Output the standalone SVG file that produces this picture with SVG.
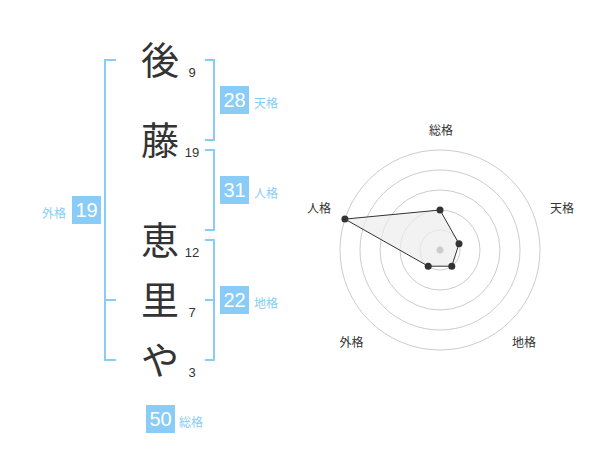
<svg xmlns="http://www.w3.org/2000/svg" width="600" height="470" viewBox="0 0 600 470">
<style>
text{font-family:"Liberation Sans","Noto Sans CJK JP",sans-serif}
.ch{font-size:38px;fill:#333;text-anchor:middle}
.sc{font-size:13px;fill:#333;text-anchor:middle}
.br{fill:none;stroke:#88ccf7;stroke-width:2}
.bx{fill:#88ccf7}
.bn{font-size:20px;fill:#fff;text-anchor:middle}
.bl{font-size:12px;fill:#88ccf7}
.ring{fill:none;stroke:#cccccc;stroke-width:1}
.rl{font-size:12px;fill:#333;text-anchor:middle}
.pt{fill:#333}
</style>
<rect width="600" height="470" fill="#fff"/>
<g id="connectors">
<path class="br" d="M116,60H105V360H116M105,300H116"/>
<path class="br" d="M205,60H214V140H205"/>
<path class="br" d="M205,150H214V230H205"/>
<path class="br" d="M205,240H214V360H205M205,300H214"/>
</g>
<g id="char-1"><text class="ch" x="160" y="74">後</text><text class="sc" x="192" y="77">9</text></g>
<g id="char-2"><text class="ch" x="160" y="154">藤</text><text class="sc" x="192" y="157">19</text></g>
<g id="char-3"><text class="ch" x="160" y="254">恵</text><text class="sc" x="192" y="257">12</text></g>
<g id="char-4"><text class="ch" x="160" y="314">里</text><text class="sc" x="192" y="317">7</text></g>
<g id="char-5"><text class="ch" x="160" y="374">や</text><text class="sc" x="192" y="377">3</text></g>
<g id="tenkaku"><rect class="bx" x="220" y="86" width="29" height="28"/><text class="bn" x="234.5" y="107">28</text><text class="bl" x="254" y="108">天格</text></g>
<g id="jinkaku"><rect class="bx" x="220" y="176" width="29" height="28"/><text class="bn" x="234.5" y="197">31</text><text class="bl" x="254" y="198">人格</text></g>
<g id="chikaku"><rect class="bx" x="220" y="286" width="29" height="28"/><text class="bn" x="234.5" y="307">22</text><text class="bl" x="254" y="308">地格</text></g>
<g id="gaikaku"><rect class="bx" x="72" y="196" width="29" height="28"/><text class="bn" x="86.5" y="217">19</text><text class="bl" x="66" y="218" text-anchor="end">外格</text></g>
<g id="soukaku"><rect class="bx" x="146" y="405" width="29" height="28"/><text class="bn" x="160.5" y="426">50</text><text class="bl" x="179" y="427">総格</text></g>
<g id="radar">
<circle class="ring" cx="440" cy="250" r="20"/>
<circle class="ring" cx="440" cy="250" r="40"/>
<circle class="ring" cx="440" cy="250" r="60"/>
<circle class="ring" cx="440" cy="250" r="80"/>
<circle class="ring" cx="440" cy="250" r="100"/>
<polygon points="440,210 459,243.8 451.8,266.2 428.2,266.2 344.9,219.1" fill="#ececec" fill-opacity="0.7" stroke="#333" stroke-width="1"/>
<circle cx="440" cy="250" r="3.5" fill="#cccccc"/>
<circle class="pt" cx="440" cy="210" r="3.5"/>
<circle class="pt" cx="459" cy="243.8" r="3.5"/>
<circle class="pt" cx="451.8" cy="266.2" r="3.5"/>
<circle class="pt" cx="428.2" cy="266.2" r="3.5"/>
<circle class="pt" cx="344.9" cy="219.1" r="3.5"/>
<text class="rl" x="441" y="135">総格</text>
<text class="rl" x="562" y="213">天格</text>
<text class="rl" x="319" y="213">人格</text>
<text class="rl" x="351.5" y="347">外格</text>
<text class="rl" x="524" y="347">地格</text>
</g>
</svg>
